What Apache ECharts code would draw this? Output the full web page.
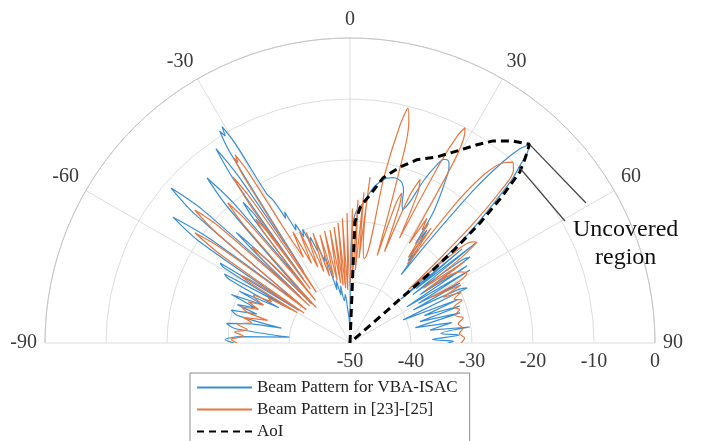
<!DOCTYPE html>
<html>
<head>
<meta charset="utf-8">
<script src="https://cdn.jsdelivr.net/npm/echarts@6/dist/echarts.min.js"></script>
<style>
  html, body { margin: 0; padding: 0; background: #ffffff; }
  #chart { width: 701px; height: 441px; }
</style>
</head>
<body>
<div id="chart"></div>
<script>
// Beam patterns, [angle in degrees, gain in dB]
const bluePoints = [
  [-90,-31],[-88.5,-29.5],[-86.7,-32],[-84.5,-40],[-82.8,-31],[-81,-29.5],[-79.5,-32.5],[-77.8,-38.5],
  [-76.2,-31],[-74.5,-29.8],[-72.8,-34],[-71.2,-30.5],[-69.6,-33.5],[-67.8,-29],[-66.3,-34.5],[-64.9,-30],
  [-63.6,-37],[-62.2,-27.5],[-61.2,-26.5],[-60.2,-38],[-59.2,-26],[-58.4,-25],[-57.4,-40],
  [-56,-20],[-54.6,-14.4],[-53.4,-21],[-52.4,-40],
  [-50.3,-17],[-49.1,-11.2],[-47.9,-17.5],[-47,-39],
  [-46.3,-28],[-45.8,-24],[-45.2,-28],[-44.4,-41],
  [-42,-20],[-40.9,-14.2],[-39.8,-20],[-38.8,-38],
  [-37.8,-24],[-37.2,-21],[-36.6,-24],[-36,-37],
  [-35.4,-17],[-34.6,-11.3],[-33.8,-17],[-33,-36],
  [-32.2,-13],[-31.6,-9.2],[-31.1,-10.4],[-30.6,-8.8],[-29.9,-12.5],[-29.2,-22],[-28.3,-23.4],
  [-27.3,-27],[-26.5,-26],[-25.6,-29.5],[-24.7,-28.5],[-23.5,-31],[-22.6,-29.8],[-21.5,-32.5],[-20.5,-31.5],
  [-19.4,-34],[-18.4,-33],[-17.2,-36],[-16.2,-35],[-15,-38.5],[-13.8,-41],[-12.4,-39.5],[-10.8,-42],
  [-9.2,-40.5],[-7.4,-43],[-5.6,-42],[-3.8,-44.5],[-2,-46],[-0.5,-47.5],
  [0.3,-40],[0.8,-33],[1.8,-29.5],[3.2,-28],[5.4,-27],[7,-25.6],[8.6,-24.2],[10.6,-23.1],[12.6,-22.3],
  [14.6,-22],[16.4,-22],[18,-22.4],[19.4,-23.6],[20.5,-25.6],[21.4,-26.5],[22.2,-26],[23,-24.9],
  [24.5,-20.5],[26,-17.5],[27.1,-16.2],[27.9,-16],[28.8,-16.3],[29.6,-17.2],[30.6,-19.5],[31.7,-22.3],
  [32.6,-25],[33.4,-30.5],[34.3,-27.6],[35.2,-33.5],[36.2,-31],[36.9,-36],
  [37.8,-28.7],[39,-17.5],[40.2,-11],[41.2,-7.6],[42.1,-6.3],[42.9,-7.2],[43.7,-9.5],[44.8,-12.5],
  [46,-18],[47.2,-23],[48.1,-30],[48.8,-35],[49.3,-39],
  [50,-26],[50.6,-36],[51.5,-23.5],[52.4,-37],[53.5,-27],[54.4,-25.8],[55.4,-36],[56.6,-27],[57.6,-39],
  [58.7,-27],[59.9,-37],[61.4,-29.5],[62.4,-38.3],[63.8,-30],[64.8,-28.8],[66.5,-40.5],[68.1,-31],
  [69.8,-37],[71.4,-31],[73,-38],[74.7,-31.3],[76.8,-39],[78.7,-33],[80.8,-36.7],[82.4,-30.2],
  [84,-35],[85.8,-32],[87.6,-36.5],[89,-33],[90,-34]
];

const orangePoints = [
  [-90,-31.5],[-88.2,-30.5],[-86.3,-32.5],[-84.5,-31],[-82.6,-33],[-80.5,-31.3],[-78.3,-33.5],[-76.5,-32],
  [-74.6,-36],[-73.3,-32.4],[-71.6,-31.3],[-69.8,-34],[-68,-32],[-66.3,-34.5],[-64.8,-32.8],[-63.6,-32.3],
  [-62.3,-35.5],[-61.1,-34.7],
  [-60,-40],[-59,-31],[-58.3,-28.8],[-57.6,-31],[-56.8,-41],
  [-55.6,-24],[-54.6,-18.8],[-53.6,-24],[-52.6,-41],
  [-50.4,-21],[-49.4,-16.5],[-48.4,-21],[-47.4,-41],
  [-46.4,-30],[-45.6,-27.5],[-44.8,-31],[-43.6,-42],
  [-42,-24],[-41.1,-19.5],[-40.2,-24],[-39,-41],
  [-37.9,-27],[-37.3,-24.5],[-36.7,-27],[-36.3,-39],
  [-35.9,-22],[-35.2,-16.7],[-34.5,-21],[-33.6,-40],
  [-32.6,-18],[-32.1,-14.2],[-31.8,-15.2],[-31.4,-13.9],[-30.8,-17],[-30,-28],
  [-28.6,-34],[-27.2,-29.5],[-25.8,-35.5],[-24.4,-30],[-23,-36.5],[-21.6,-30.5],[-20.1,-37.5],[-18.6,-31],
  [-17,-38.5],[-15.5,-31.6],[-14.1,-39],[-12.8,-31.2],[-11.6,-39.5],[-10,-31.2],[-8.9,-40],[-7.8,-30.8],
  [-6.8,-40.5],[-5.7,-30.2],[-4.6,-41],[-3.5,-29.5],[-2.4,-41.3],[-1.3,-28.7],[-0.1,-40.5],[1,-28],
  [2.1,-39.5],[3.2,-26.5],[4.2,-38],[5.3,-25.2],[6.1,-36],[6.9,-22.6],[7.8,-34],
  [9.5,-36],[11.6,-22],[12.9,-13.5],[13.9,-10.3],[14.9,-12.5],[16,-21],[17.3,-35],
  [18.2,-26],[19,-24],[19.8,-26],[20.7,-34],
  [22,-24],[23.2,-20.8],[24.3,-23],[25.3,-31],
  [26.6,-17],[27.4,-11.8],[28.1,-10],[28.8,-11],[29.8,-16],[30.7,-31],
  [31.7,-26],[32.5,-28],[33.3,-26.5],[34.3,-33],[35.2,-27],[36,-34],
  [37.2,-21],[38.6,-14.5],[40.4,-11.2],[42,-10.1],[43.4,-11],[44.7,-15],[45.9,-22],[46.8,-30],[47.6,-37],
  [49,-28],[50.4,-24],[51.5,-23.4],[52.5,-27],[53.3,-35],[54.6,-27],[55.6,-35],[57.2,-28.5],[59.1,-27.7],
  [60.5,-35],[62.4,-29.5],[63.8,-33],[65.5,-30],[67.2,-31.5],[69,-30.3],[71,-32],[73,-31.2],[75.2,-32.2],
  [77.5,-31],[80,-32],[82.5,-31.3],[85,-32],[87.5,-31.2],[90,-31.8]
];

// Angle of interest contour, [angle in degrees, gain in dB]
const aoiPoints = [
  [0,-50],[2.3,-30.2],[4.5,-27.5],[7.7,-25.5],[11.3,-22.4],[15.9,-20],[20.1,-18],[25.1,-16.3],[29.7,-13.6],
  [32.5,-11.5],[35.3,-9.4],[38.8,-7.5],[42.1,-6.1],[43.5,-8.3],[44.8,-10.5],[46.1,-15.5],[47.3,-21],
  [48.2,-27],[48.8,-33],[48.8,-41],[48,-50]
];

const seriesNames = ['Beam Pattern for VBA-ISAC', 'Beam Pattern in [23]-[25]', 'AoI'];
const annotationText = 'Uncovered\nregion';
// points the annotation leaders start from, [gain dB, angle deg]
const annotationAnchors = [[-6.1, 42.1], [-10, 43.8]];

const serif = '"Liberation Serif", "Times New Roman", serif';
const toPolar = pts => pts.map(p => [p[1], p[0]]);

const chart = echarts.init(document.getElementById('chart'), null, { renderer: 'canvas' });

chart.setOption({
  animation: false,
  backgroundColor: '#ffffff',
  polar: { center: [350, 343], radius: 305 },
  angleAxis: {
    type: 'value', min: -90, max: 90, interval: 30,
    startAngle: 180, endAngle: 0, clockwise: true,
    axisLine: { lineStyle: { color: '#c6c6c6', width: 1 } },
    axisTick: { show: false },
    axisLabel: { margin: 8, fontFamily: serif, fontSize: 20, color: '#3a3a3a' },
    splitLine: { lineStyle: { color: '#dedede', width: 1 } }
  },
  radiusAxis: {
    type: 'value', min: -50, max: 0, interval: 10,
    axisLine: { show: false }, axisTick: { show: false }, axisLabel: { show: false },
    splitLine: { lineStyle: { color: '#dedede', width: 1 } }
  },
  grid: { left: 350, width: 305, top: 300, height: 43 },
  xAxis: {
    type: 'value', min: -50, max: 0, interval: 10,
    axisLine: { show: false }, axisTick: { show: false }, splitLine: { show: false },
    axisLabel: { margin: 9, fontFamily: serif, fontSize: 20, color: '#3a3a3a' }
  },
  yAxis: { type: 'value', min: 0, max: 1, show: false },
  legend: {
    orient: 'vertical', left: 190, top: 373, height: 70,
    itemWidth: 55, itemHeight: 14, itemGap: 5,
    padding: [6, 12, 6, 6],
    borderColor: '#8c8c8c', borderWidth: 1,
    itemStyle: { opacity: 0 },
    textStyle: { fontFamily: serif, fontSize: 17, color: '#222' },
    data: [
      { name: seriesNames[0] },
      { name: seriesNames[1] },
      { name: seriesNames[2], lineStyle: { width: 2, type: [7, 5] } }
    ]
  },
  series: [
    {
      name: seriesNames[0], type: 'line', coordinateSystem: 'polar',
      data: toPolar(bluePoints), symbol: 'none', smooth: 0.3,
      lineStyle: { color: '#3a8fd4', width: 1.2 }, itemStyle: { color: '#3a8fd4' }, z: 2
    },
    {
      name: seriesNames[1], type: 'line', coordinateSystem: 'polar',
      data: toPolar(orangePoints), symbol: 'none', smooth: 0.3,
      lineStyle: { color: '#e8773f', width: 1.2 }, itemStyle: { color: '#e8773f' }, z: 3
    },
    {
      name: seriesNames[2], type: 'line', coordinateSystem: 'polar',
      data: toPolar(aoiPoints), symbol: 'none',
      lineStyle: { color: '#000000', width: 3, type: [8, 5] }, itemStyle: { color: '#000000' }, z: 4
    }
  ]
});

// leader lines and caption for the uncovered part of the AoI
const a0 = chart.convertToPixel({ polarIndex: 0 }, annotationAnchors[0]);
const a1 = chart.convertToPixel({ polarIndex: 0 }, annotationAnchors[1]);
chart.setOption({
  graphic: [
    { type: 'line', shape: { x1: a0[0], y1: a0[1], x2: 586, y2: 203 }, style: { stroke: '#404040', lineWidth: 1.2 }, z: 10 },
    { type: 'line', shape: { x1: a1[0], y1: a1[1], x2: 565, y2: 221 }, style: { stroke: '#404040', lineWidth: 1.2 }, z: 10 },
    { type: 'text', left: 573, top: 216, z: 10,
      style: { text: annotationText, fontFamily: serif, fontSize: 24, lineHeight: 28, fill: '#111', textAlign: 'center' } }
  ]
});
</script>
</body>
</html>
